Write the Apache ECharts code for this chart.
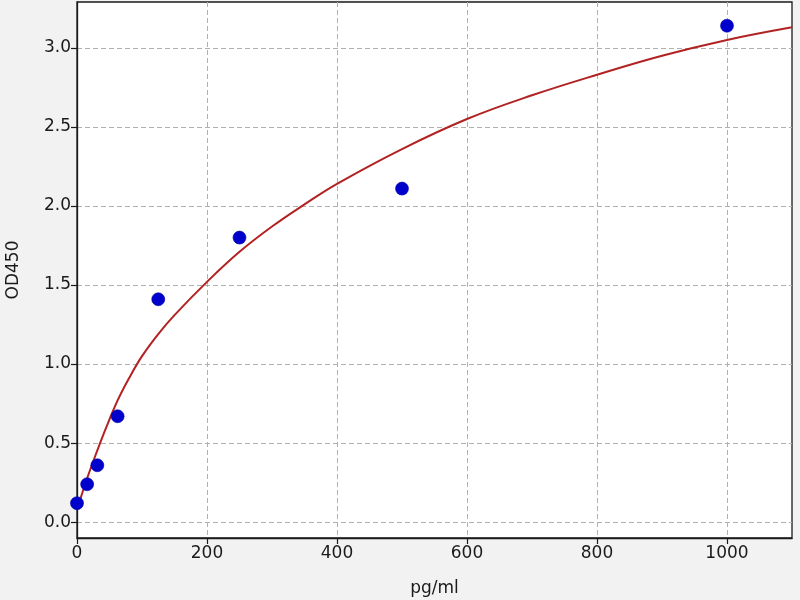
<!DOCTYPE html>
<html>
<head>
<meta charset="utf-8">
<script src="https://cdn.jsdelivr.net/npm/echarts@6/dist/echarts.min.js"></script>
<style>
html,body{margin:0;padding:0;background:#f2f2f2;}
#chart{width:800px;height:600px;}
</style>
</head>
<body>
<div id="chart"></div>
<script>
// Measured standards (blue dots)
const stdConc = [0, 15.625, 31.25, 62.5, 125, 250, 500, 1000];
const stdOD   = [0.12, 0.24, 0.36, 0.67, 1.41, 1.80, 2.11, 3.14];

// Fitted curve (red line)
const curveX = [0, 15, 30, 45, 62.5, 80, 100, 125, 150, 200, 250, 300, 350, 400, 500, 600, 700, 800, 900, 1000, 1100];
const curveY = [0.08, 0.27, 0.44, 0.60, 0.77, 0.91, 1.05, 1.19, 1.31, 1.52, 1.71, 1.87, 2.01, 2.14, 2.36, 2.55, 2.70, 2.83, 2.95, 3.05, 3.13];

// Tick labels
const xTicks = [0, 200, 400, 600, 800, 1000];
const yTicks = [0.0, 0.5, 1.0, 1.5, 2.0, 2.5, 3.0];

const xName = 'pg/ml';
const yName = 'OD450';

const font = 'DejaVu Sans';
const chart = echarts.init(document.getElementById('chart'), null, {renderer: 'canvas'});

const scatterData = stdConc.map((x, i) => [x, stdOD[i]]);
const curveData = curveX.map((x, i) => [x, curveY[i]]);

chart.setOption({
  backgroundColor: '#f2f2f2',
  animation: false,
  grid: {
    left: 77, right: 8, top: 2, bottom: 62,
    outerBoundsMode: 'none', containLabel: false,
    show: true, backgroundColor: '#ffffff',
    borderColor: '#1a1a1a', borderWidth: 1.3
  },
  xAxis: {
    type: 'value', min: 0, max: 1100,
    name: xName, nameLocation: 'middle', nameGap: 42,
    nameTextStyle: {fontFamily: font, fontSize: 17, color: '#1a1a1a'},
    axisLine: {show: true, onZero: false, lineStyle: {color: '#1a1a1a', width: 1.3}},
    axisTick: {show: true, length: 6, inside: false, customValues: xTicks, lineStyle: {color: '#1a1a1a', width: 1.2}},
    axisLabel: {customValues: xTicks, fontFamily: font, fontSize: 17, color: '#1a1a1a', margin: 7,
      formatter: v => String(v)},
    splitLine: {show: true, lineStyle: {color: '#b0b0b0', type: [5, 3], width: 1}}
  },
  yAxis: {
    type: 'value', min: -0.1, max: 3.29,
    name: yName, nameLocation: 'middle', nameGap: 55, nameRotate: 90,
    nameTextStyle: {fontFamily: font, fontSize: 17, color: '#1a1a1a'},
    axisLine: {show: true, onZero: false, lineStyle: {color: '#1a1a1a', width: 1.3}},
    axisTick: {show: true, length: 6, inside: false, customValues: yTicks, lineStyle: {color: '#1a1a1a', width: 1.2}},
    axisLabel: {customValues: yTicks, fontFamily: font, fontSize: 17, color: '#1a1a1a', margin: 6,
      formatter: v => v.toFixed(1)},
    splitLine: {show: true, lineStyle: {color: '#b0b0b0', type: [5, 3], width: 1}}
  },
  series: [
    {
      type: 'line', data: curveData, smooth: 0.4, showSymbol: false, symbol: 'none',
      lineStyle: {color: '#b22222', width: 2}, z: 2, silent: true
    },
    {
      type: 'scatter', data: scatterData, symbolSize: 13,
      itemStyle: {color: '#0000cc', opacity: 1, borderColor: '#0000a8', borderWidth: 0.6}, z: 3
    }
  ]
});
</script>
</body>
</html>
